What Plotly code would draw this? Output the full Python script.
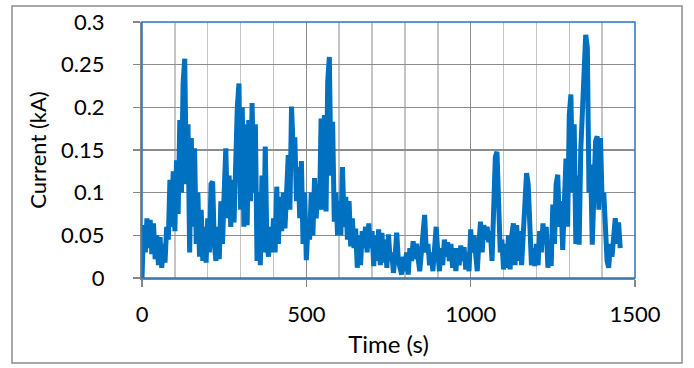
import plotly.graph_objects as go

# time samples (s)
time_s = list(range(0, 1460, 5))

# current (kA) at 5 s steps
current_ka = [
    0.000, 0.062, 0.030, 0.070, 0.035, 0.068, 0.028, 0.064, 0.022, 0.050,
    0.015, 0.048, 0.012, 0.040, 0.018, 0.060, 0.045, 0.115, 0.060, 0.125,
    0.055, 0.138, 0.075, 0.185, 0.100, 0.228, 0.257, 0.110, 0.180, 0.030,
    0.164, 0.060, 0.152, 0.040, 0.100, 0.025, 0.080, 0.020, 0.060, 0.018,
    0.070, 0.030, 0.110, 0.113, 0.040, 0.020, 0.060, 0.022, 0.090, 0.040,
    0.100, 0.152, 0.070, 0.120, 0.060, 0.115, 0.065, 0.150, 0.200, 0.228,
    0.080, 0.200, 0.060, 0.180, 0.062, 0.185, 0.090, 0.205, 0.100, 0.180,
    0.020, 0.100, 0.015, 0.120, 0.030, 0.154, 0.040, 0.025, 0.060, 0.030,
    0.070, 0.030, 0.107, 0.040, 0.095, 0.055, 0.100, 0.058, 0.090, 0.144,
    0.080, 0.201, 0.150, 0.165, 0.090, 0.130, 0.070, 0.137, 0.040, 0.100,
    0.021, 0.060, 0.045, 0.100, 0.050, 0.117, 0.070, 0.110, 0.080, 0.187,
    0.080, 0.191, 0.078, 0.230, 0.259, 0.120, 0.183, 0.066, 0.100, 0.050,
    0.090, 0.050, 0.130, 0.060, 0.095, 0.045, 0.090, 0.037, 0.070, 0.035,
    0.058, 0.012, 0.050, 0.015, 0.055, 0.035, 0.060, 0.030, 0.064, 0.035,
    0.055, 0.014, 0.050, 0.020, 0.057, 0.015, 0.053, 0.018, 0.045, 0.012,
    0.051, 0.020, 0.030, 0.006, 0.025, 0.053, 0.020, 0.010, 0.004, 0.025,
    0.008, 0.030, 0.004, 0.035, 0.020, 0.043, 0.022, 0.040, 0.015, 0.008,
    0.030, 0.050, 0.074, 0.030, 0.040, 0.015, 0.030, 0.008, 0.040, 0.060,
    0.030, 0.008, 0.035, 0.015, 0.045, 0.025, 0.042, 0.020, 0.040, 0.012,
    0.035, 0.008, 0.035, 0.015, 0.038, 0.020, 0.036, 0.010, 0.030, 0.008,
    0.057, 0.030, 0.050, 0.020, 0.008, 0.040, 0.066, 0.030, 0.062, 0.045,
    0.060, 0.042, 0.055, 0.020, 0.070, 0.142, 0.148, 0.070, 0.030, 0.045,
    0.010, 0.040, 0.012, 0.050, 0.010, 0.050, 0.064, 0.015, 0.062, 0.020,
    0.055, 0.015, 0.045, 0.080, 0.123, 0.110, 0.050, 0.015, 0.035, 0.014,
    0.040, 0.015, 0.055, 0.030, 0.064, 0.040, 0.060, 0.012, 0.030, 0.014,
    0.086, 0.040, 0.110, 0.121, 0.060, 0.090, 0.033, 0.080, 0.140, 0.060,
    0.191, 0.215, 0.100, 0.180, 0.040, 0.120, 0.039, 0.150, 0.200, 0.250,
    0.285, 0.270, 0.100, 0.133, 0.039, 0.100, 0.160, 0.166, 0.080, 0.164,
    0.090, 0.100, 0.050, 0.020, 0.012, 0.040, 0.025, 0.055, 0.070, 0.040,
    0.065, 0.035,
]

x_ticks = [0, 500, 1000, 1500]
y_ticks = [0, 0.05, 0.1, 0.15, 0.2, 0.25, 0.3]

W, H = 694, 368
ML, MR, MT, MB = 142, 59, 22, 90
PW, PH = W - ML - MR, H - MT - MB

fig = go.Figure()
fig.add_trace(go.Scatter(
    x=time_s, y=current_ka, mode="lines",
    line=dict(color="#0070C0", width=5),
    showlegend=False, hoverinfo="skip",
))

FAMILY = "Lato, Carlito, Calibri, sans-serif"
tick_font = dict(family=FAMILY, size=22, color="#000000")
xtitle_font = dict(family=FAMILY, size=24, color="#000000")
ytitle_font = dict(family=FAMILY, size=22, color="#000000")

fig.update_layout(
    width=W, height=H,
    margin=dict(l=ML, r=MR, t=MT, b=MB, autoexpand=False),
    paper_bgcolor="white", plot_bgcolor="white",
    font=tick_font,
    xaxis=dict(
        range=[0, 1500], tickvals=x_ticks, ticktext=[str(v) for v in x_ticks],
        tickfont=tick_font,
        showgrid=True, gridcolor="#8C8C8C", gridwidth=1.5,
        minor=dict(dtick=100, showgrid=True, gridcolor="#C4C4C4", gridwidth=1.5),
        showline=True, linecolor="#868686", linewidth=2,
        ticks="outside", ticklen=7, tickcolor="#868686", tickwidth=1.5,
        ticklabelstandoff=9, automargin=False,
        zeroline=False,
        title=dict(text="Time (s)", font=xtitle_font, standoff=10),
    ),
    yaxis=dict(
        range=[0, 0.3], tickvals=y_ticks, ticktext=["0", "0.05", "0.1", "0.15", "0.2", "0.25", "0.3"],
        tickfont=tick_font,
        showgrid=True, gridcolor="#8C8C8C", gridwidth=1.5,
        showline=True, linecolor="#868686", linewidth=2,
        ticks="outside", ticklen=7, tickcolor="#868686", tickwidth=1.5,
        ticklabelstandoff=24, automargin=False,
        zeroline=False,
        title=dict(text="Current (kA)", font=ytitle_font, standoff=8),
    ),
    shapes=[
        # plot-area border (blue)
        dict(type="rect", xref="paper", yref="paper", x0=0, x1=1, y0=0, y1=1,
             line=dict(color="#2E75B6", width=1.5), layer="above"),
        # outer chart border
        dict(type="rect", xref="paper", yref="paper",
             x0=(12 - ML) / PW, x1=(682 - ML) / PW,
             y0=(H - MB - 363) / PH, y1=(H - MB - 6) / PH,
             line=dict(color="#8C8C8C", width=1.5), layer="above"),
    ],
)

fig.write_html(
    "out.html",
    config={"displayModeBar": False, "staticPlot": True},
    post_script="document.body.style.margin='0px';document.body.style.padding='0px';",
)
